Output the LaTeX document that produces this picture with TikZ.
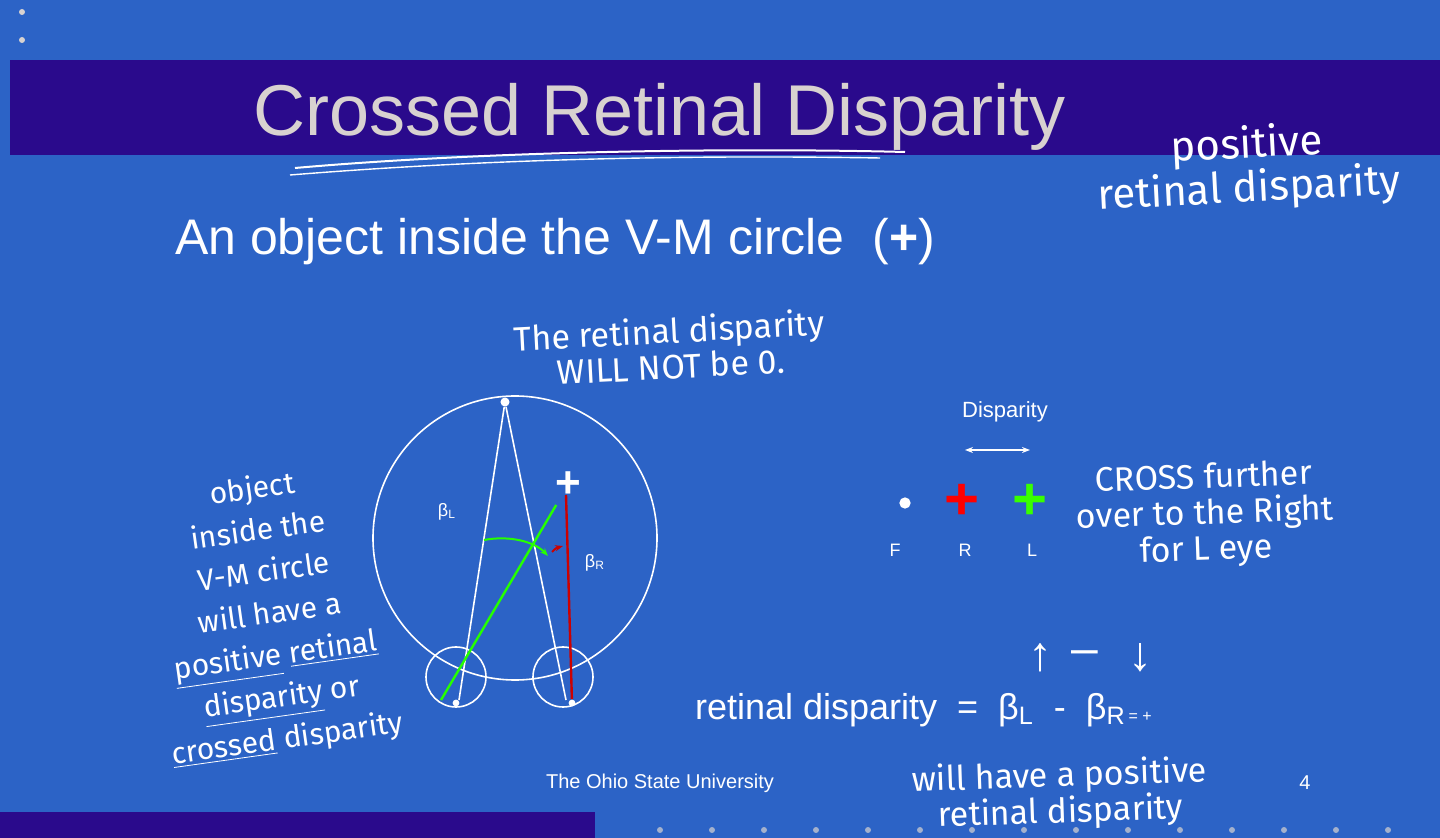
\documentclass[tikz,border=0pt]{standalone}
\usepackage{fontspec}
\setmainfont{Liberation Sans}
\newfontfamily\hand{Fira Sans}[Scale=1]
\usetikzlibrary{arrows.meta}
\definecolor{bg}{HTML}{2C63C6}
\definecolor{bar}{HTML}{2A0A8C}
\definecolor{ttl}{HTML}{D8D2D0}
\begin{document}
\begin{tikzpicture}[x=0.5pt,y=-0.5pt,
  hw/.style={text=white,font=\hand\fontsize{17}{18}\selectfont,align=center,inner sep=0},
  wl/.style={white,line width=0.8pt},
  dot/.style={circle,fill=white,inner sep=1.6pt}]
\fill[bg] (0,0) rectangle (1440,838);
\useasboundingbox (0,0) rectangle (1440,838);
\fill[bar] (10,60) rectangle (1440,155);
\fill[bar] (0,812) rectangle (595,838);
\foreach \y in {12,40} \fill[ttl] (22,\y) circle (3);
\foreach \x in {660,712,764,816,868,920,972,1024,1076,1128,1180,1232,1284,1336,1388} \fill[ttl!70!bg] (\x,830) circle (3);
\node[text=ttl,font=\fontsize{36}{40}\selectfont] (title) at (660,117) {Crossed Retinal Disparity};
\draw[white,line width=1pt] (295,168) .. controls (500,150) and (750,148) .. (905,152);
\draw[white,line width=0.7pt] (290,175) .. controls (500,158) and (700,155) .. (880,158);
\node[hw,font=\hand\fontsize{21}{22}\selectfont,rotate=3] (pos) at (1248,168) {positive\\ retinal disparity};
\node[text=white,font=\fontsize{25}{28}\selectfont,anchor=west] (sub) at (168,242) {An object inside the V-M circle\ \ (\textbf{+})};
\node[hw,rotate=3] (wn) at (670,348) {The retinal disparity\\ WILL NOT be 0.};
% geometry
\coordinate (T) at (505,402);
\coordinate (EL) at (456,703);
\coordinate (ER) at (572,703);
\node[circle,draw=white,line width=0.8pt,minimum size=142pt,inner sep=0] (vm) at (515,538) {};
\node[circle,draw=white,line width=0.8pt,minimum size=30pt,inner sep=0] (cl) at (456,677) {};
\node[circle,draw=white,line width=0.8pt,minimum size=30pt,inner sep=0] (cr) at (563,677) {};
\node[dot] (t) at (T) {};
\node[dot,inner sep=1.2pt] (el) at (EL) {};
\node[dot,inner sep=1.2pt] (er) at (ER) {};
\draw[wl] (t) -- (459,700);
\draw[wl] (t) -- (566,700);
\node[text=white,font=\fontsize{22}{22}\selectfont\bfseries] (obj) at (568,485) {+};
\draw[green!80!lime,line width=1.2pt] (441,700) -- (obj);
\draw[red!80!black,line width=1.2pt] (566,495) -- (er);
\node[text=white,font=\small] (bl) at (447,512) {β\textsubscript{L}};
\node[text=white,font=\small] (br) at (595,563) {β\textsubscript{R}};
\draw[green!80!lime,line width=1pt,-{Stealth[length=4pt]}] (484,540) .. controls (510,535) and (535,542) .. (548,556);
\draw[red!80!black,line width=1pt,-{Stealth[length=4pt]}] (552,552) .. controls (556,548) .. (563,546);
\node[hw,font=\hand\fontsize{15}{21}\selectfont,rotate=8] (lft) at (270,615) {object\\ inside the\\ V-M circle\\ will have a\\ \underline{positive} \underline{retinal}\\ \underline{disparity} or\\ \underline{crossed} disparity};
% right side
\node[text=white,font=\fontsize{11}{12}\selectfont] (dsp) at (1005,412) {Disparity};
\coordinate (a1) at (965,450); \coordinate (a2) at (1030,450);
\draw[white,line width=0.7pt,{Stealth[length=4pt]}-{Stealth[length=4pt]}] (a1) -- (a2);
\node[dot,inner sep=2pt] (F) at (905,503) {};
\node[text=red,font=\fontsize{30}{30}\selectfont\bfseries] (R) at (962,502) {+};
\node[text=green!70!lime,font=\fontsize{30}{30}\selectfont\bfseries] (L) at (1030,502) {+};
\foreach \n/\x in {F/895,R/965,L/1032} \node[text=white,font=\fontsize{9}{9}\selectfont\rmfamily] at (\x,550) {\n};
\node[hw,rotate=2] (cf) at (1205,515) {CROSS further\\ over to the Right\\ for L eye};
\node[text=white,font=\fontsize{18}{20}\selectfont,anchor=west] (eq) at (688,710) {retinal disparity\ \ =\ \ β\textsubscript{L}\ \ -\ \ β\textsubscript{R}\raisebox{-1pt}{\footnotesize\,= +}};
\node[hw,font=\fontsize{24}{24}\selectfont] (up) at (1040,658) {↑};
\node[hw,font=\fontsize{24}{24}\selectfont] (mn) at (1085,658) {–};
\node[hw,font=\fontsize{24}{24}\selectfont] (dn) at (1140,658) {↓};
\node[hw,rotate=2] (wh) at (1060,795) {will have a positive\\ retinal disparity};
\node[text=white,font=\fontsize{10}{10}\selectfont] (osu) at (660,783) {The Ohio State University};
\node[text=white,font=\fontsize{10}{10}\selectfont] (pg) at (1305,783) {4};
\end{tikzpicture}
\end{document}
